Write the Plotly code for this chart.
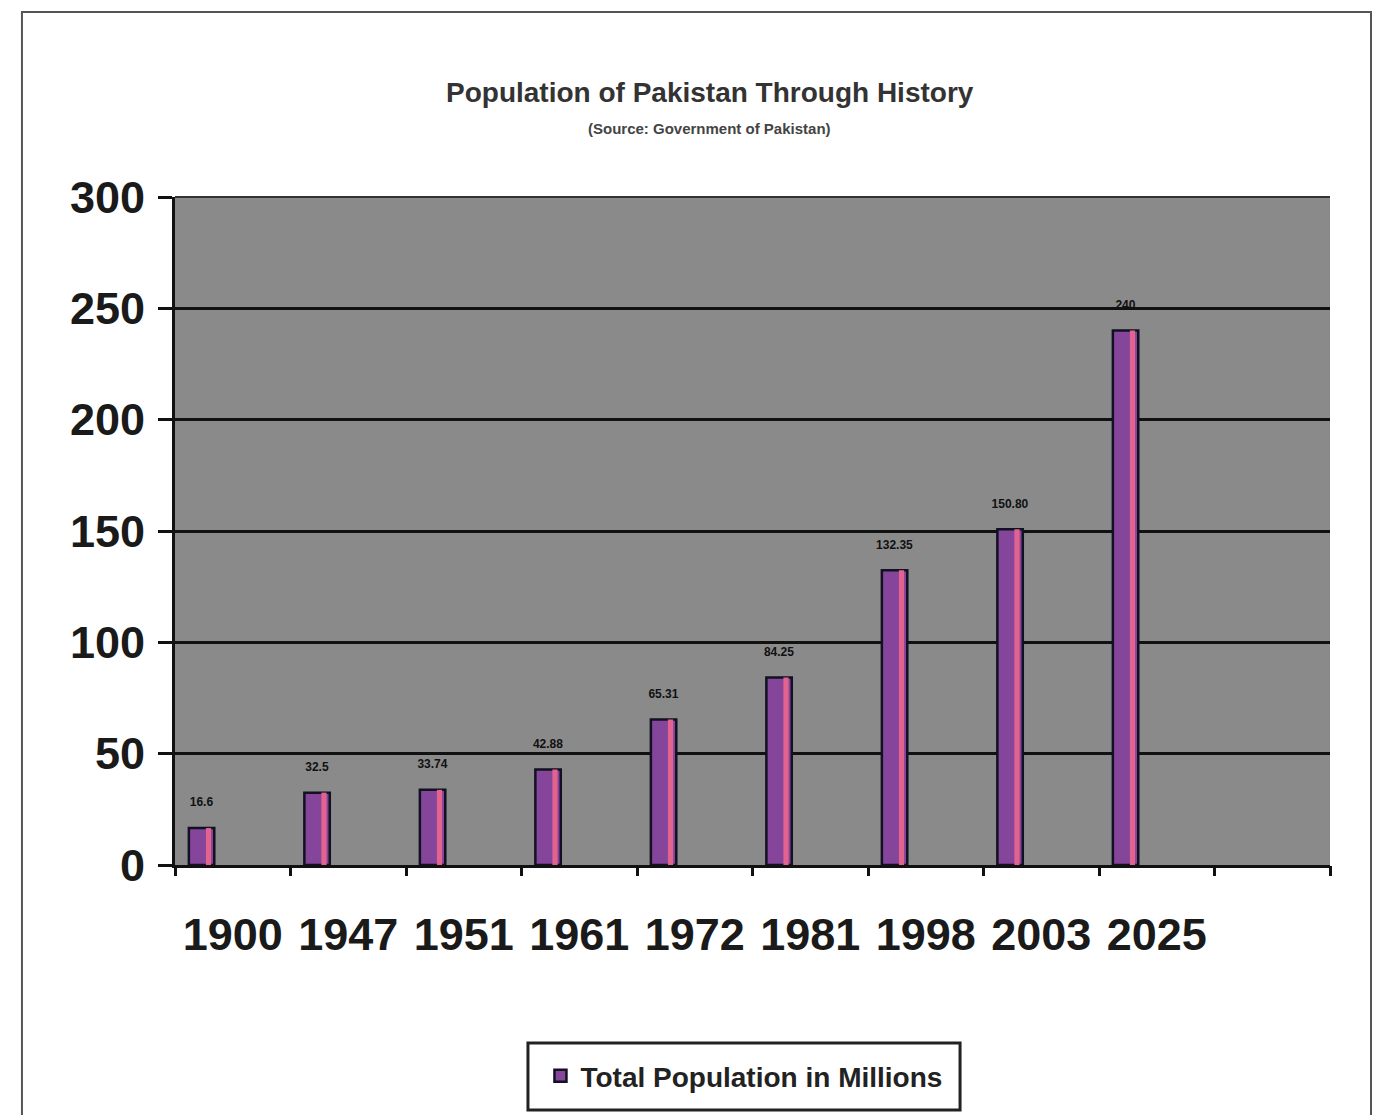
import plotly.graph_objects as go

years = ["1900", "1947", "1951", "1961", "1972", "1981", "1998", "2003", "2025"]
population = [16.6, 32.5, 33.74, 42.88, 65.31, 84.25, 132.35, 150.80, 240]
value_labels = ["16.6", "32.5", "33.74", "42.88", "65.31", "84.25", "132.35", "150.80", "240"]
y_ticks = [0, 50, 100, 150, 200, 250, 300]

n_slots = 10
slot_idx = list(range(len(years)))
bar_x = [i + 0.23 for i in slot_idx]
stripe_x = [i + 0.29 for i in slot_idx]
label_x = [i + 0.5 for i in slot_idx]

FONT = "Arial, Liberation Sans, sans-serif"

fig = go.Figure()
fig.add_trace(go.Bar(
    x=bar_x, y=population, width=0.22,
    name="<b>Total Population in Millions</b>",
    marker=dict(color="#84459A", line=dict(color="#111122", width=2.5)),
    text=[f"<b>{v}</b><br> " for v in value_labels],
    textposition="outside",
    constraintext="none",
    textfont=dict(family=FONT, size=12, color="#111"),
    cliponaxis=False,
))
fig.add_trace(go.Bar(
    x=stripe_x, y=population, width=0.045,
    marker=dict(color="#E2648E", line=dict(width=0)),
    showlegend=False, hoverinfo="skip",
))

fig.update_layout(
    width=1379, height=1115,
    margin=dict(l=175, r=49, t=197, b=250),
    paper_bgcolor="white",
    plot_bgcolor="#8A8A8A",
    barmode="overlay",
    showlegend=True,
    legend=dict(
        x=0.4926, xanchor="center", y=-0.316, yanchor="middle",
        bgcolor="rgba(0,0,0,0)", borderwidth=0,
        font=dict(family=FONT, size=28, color="#222"),
    ),
    xaxis=dict(
        range=[0, n_slots], tickvals=label_x, ticktext=[f"<b>{y}</b>" for y in years],
        ticks="", showgrid=False, zeroline=False,
        showline=True, linecolor="#111", linewidth=3,
        tickfont=dict(family=FONT, size=45, color="#1a1a1a"),
        ticklabelstandoff=28,
    ),
    xaxis2=dict(
        range=[0, n_slots], overlaying="x", anchor="y", side="bottom",
        tickvals=list(range(n_slots + 1)), ticks="outside", ticklen=10,
        tickwidth=3, tickcolor="#111", showticklabels=False,
        showgrid=False, zeroline=False, showline=False,
    ),
    yaxis=dict(
        range=[0, 300], tickvals=y_ticks, ticktext=[f"<b>{v}</b>" for v in y_ticks],
        showgrid=True, gridcolor="#111", gridwidth=3,
        zeroline=False, showline=True, linecolor="#111", linewidth=3,
        ticks="outside", ticklen=14, tickwidth=3, tickcolor="#111",
        tickfont=dict(family=FONT, size=45, color="#1a1a1a"),
        ticklabelstandoff=4,
    ),
    annotations=[
        dict(text="<b>Population of Pakistan Through History</b>", xref="paper", yref="paper",
             x=0.463, y=1.156, xanchor="center", yanchor="middle", showarrow=False,
             font=dict(family=FONT, size=28, color="#333")),
        dict(text="<b>(Source: Government of Pakistan)</b>", xref="paper", yref="paper",
             x=0.463, y=1.102, xanchor="center", yanchor="middle", showarrow=False,
             font=dict(family=FONT, size=15, color="#444")),
    ],
    shapes=[
        dict(type="rect", xref="paper", yref="paper", x0=-0.1325, x1=1.0355, y0=-0.39, y1=1.277,
             line=dict(color="#555", width=2), fillcolor="rgba(0,0,0,0)", layer="below"),
        dict(type="line", xref="paper", yref="paper", x0=0, x1=1, y0=1, y1=1,
             line=dict(color="#333", width=2)),
        dict(type="rect", xref="paper", yref="paper", x0=0.3056, x1=0.6797, y0=-0.3668, y1=-0.2665,
             line=dict(color="#222", width=3), fillcolor="white", layer="below"),
    ],
)
fig.add_trace(go.Scatter(x=[None], y=[None], xaxis="x2", showlegend=False, hoverinfo="skip"))

fig.write_html("out.html")
